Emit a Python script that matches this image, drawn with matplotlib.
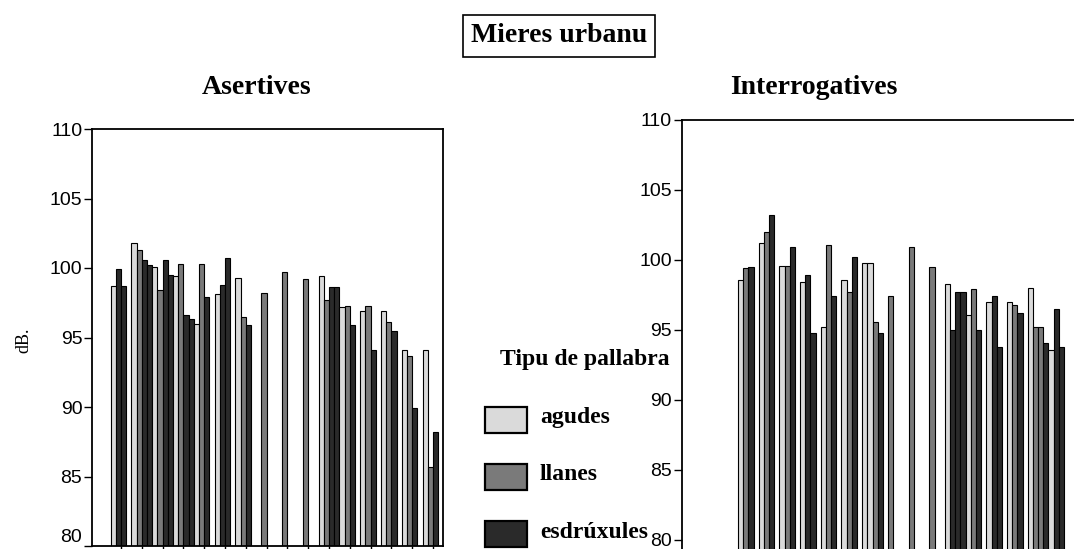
import numpy as np
import matplotlib.pyplot as plt
from matplotlib.patches import Rectangle

plt.rcParams["font.family"] = "Liberation Sans"

W, H = 1074, 549

tipus = ["agudes", "llanes", "esdrúxules"]
colores = {"a": "#dadada", "l": "#7a7a7a", "e": "#2a2a2a"}

# one letter per bar, four slots per group ("-" = empty slot)
asert_tipu = "aee- alee alee alee ale- aee- ale- -l-- -l-- -l-- alee ale- ale- ale- ale- ale-"
asert_db = [98.7, 99.9, 98.7,
            101.8, 101.3, 100.6, 100.2,
            100.1, 98.4, 100.6, 99.5,
            99.4, 100.3, 96.6, 96.3,
            96.0, 100.3, 97.9,
            98.1, 98.8, 100.7,
            99.3, 96.5, 95.9,
            98.2,
            99.7,
            99.2,
            99.4, 97.7, 98.6, 98.6,
            97.2, 97.3, 95.9,
            96.9, 97.3, 94.1,
            96.9, 96.1, 95.5,
            94.1, 93.7, 89.9,
            94.1, 85.7, 88.2]

interr_tipu = "ale- ale- ale- aee- ale- ale- aale -l-- -l-- -l-- aeee ale- aee- ale- alle aee-"
interr_db = [98.6, 99.4, 99.5,
             101.2, 102.0, 103.2,
             99.6, 99.6, 100.9,
             98.4, 98.9, 94.8,
             95.2, 101.1, 97.4,
             98.6, 97.7, 100.2,
             99.8, 99.8, 95.6, 94.8,
             97.4,
             100.9,
             99.5,
             98.3, 95.0, 97.7, 97.7,
             96.1, 97.9, 95.0,
             97.0, 97.4, 93.8,
             97.0, 96.8, 96.2,
             98.0, 95.2, 95.2, 94.1,
             93.6, 96.5, 93.8]

yticks = [80, 85, 90, 95, 100, 105, 110]


def fx(px):
    return px / W


def fy(py):
    return 1 - py / H


def barres(ax, tipu, valores):
    vals = iter(valores)
    for g, grupu in enumerate(tipu.split()):
        for j, c in enumerate(grupu):
            if c == "-":
                continue
            ax.bar(g - 0.375 + 0.25 * j, next(vals), width=0.25,
                   color=colores[c], edgecolor="black", linewidth=0.8)


fig = plt.figure(figsize=(W / 100, H / 100), dpi=100)

# Asertives
ax1 = fig.add_axes([fx(92), fy(546), fx(351), 417 / H])
barres(ax1, asert_tipu, asert_db)
ax1.set_xlim(-1.39, 15.48)
ax1.set_ylim(80, 110)
ax1.set_xticks(range(16))
ax1.set_xticklabels([])
ax1.tick_params(axis="x", length=4, width=1)
ax1.set_yticks(yticks)
ax1.tick_params(axis="y", length=6, width=1, pad=1, labelsize=14)
# the bottom label sits just above its tick so it stays inside the figure
ax1.get_yticklabels()[0].set_va("bottom")
for s in ax1.spines.values():
    s.set_linewidth(1.3)

# Interrogatives
ax2 = fig.add_axes([fx(681.7), fy(554), fx(410), 434 / H])
barres(ax2, interr_tipu, interr_db)
ax2.set_xlim(-3.22, 16.59)
ax2.set_ylim(79, 110)
ax2.set_xticks([])
ax2.set_yticks(yticks)
ax2.tick_params(axis="y", length=6, width=1, pad=1, labelsize=14)
for s in ax2.spines.values():
    s.set_linewidth(1.3)

serif = "Liberation Serif"
fig.text(fx(559), fy(36), "Mieres urbanu", family=serif, fontsize=20, weight="bold",
         ha="center", va="center",
         bbox=dict(boxstyle="square,pad=0.3", fc="white", ec="black", lw=1.2))
fig.text(fx(257), fy(88), "Asertives", family=serif, fontsize=20, weight="bold",
         ha="center", va="center")
fig.text(fx(814), fy(88), "Interrogatives", family=serif, fontsize=20, weight="bold",
         ha="center", va="center")
fig.text(fx(24), fy(340), "dB.", family=serif, fontsize=13, rotation=90,
         ha="center", va="center")

# legend
fig.text(fx(500), fy(360), "Tipu de pallabra", family=serif, fontsize=17,
         weight="bold", ha="left", va="center")
for k, (nome, c) in enumerate(zip(tipus, "ale")):
    yc = 420 + 57 * k
    fig.add_artist(Rectangle((fx(485), fy(yc + 13)), fx(42), 26 / H,
                             transform=fig.transFigure, fc=colores[c],
                             ec="black", lw=1.6))
    fig.text(fx(540), fy(yc - 2), nome, family=serif, fontsize=17,
             weight="bold", ha="left", va="center")

fig.savefig("out.png", dpi=100)
